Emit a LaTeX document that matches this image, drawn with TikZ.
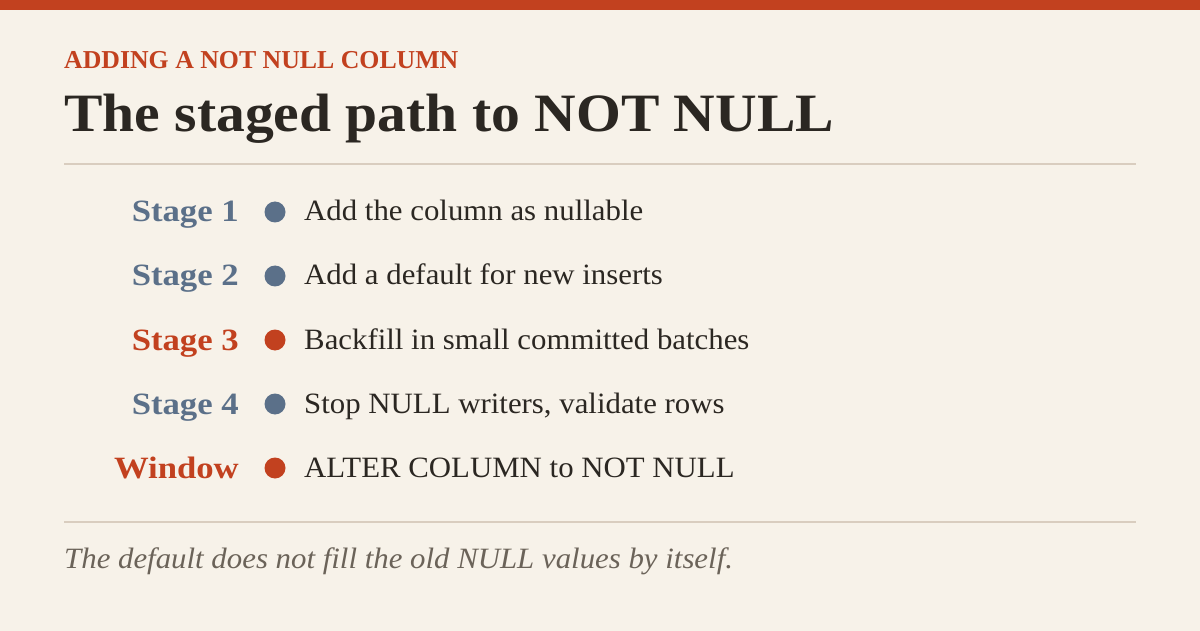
\documentclass[tikz,border=0pt]{standalone}
\usepackage{fontspec}
\setmainfont{Liberation Serif}
\newfontfamily\titlefont[FakeStretch=1.067]{Liberation Serif}
\newfontfamily\descfont[FakeStretch=1.045]{Liberation Serif}
\newfontfamily\lblfont[FakeStretch=1.12]{Liberation Serif}
\definecolor{bg}{HTML}{F7F2E9}
\definecolor{accent}{HTML}{C2411F}
\definecolor{slate}{HTML}{5B7089}
\definecolor{ink}{HTML}{2B2722}
\definecolor{rulec}{HTML}{D9CDBF}
\definecolor{muted}{HTML}{6B6359}
\tikzset{
  lbl/.style={anchor=base east, inner sep=0, font=\lblfont\fontsize{31}{34}\selectfont\bfseries},
  desc/.style={anchor=base west, inner sep=0, text=ink, font=\descfont\fontsize{29.5}{33}\selectfont},
  dot/.style={circle, inner sep=0, minimum size=21pt},
  sep/.style={rulec, line width=2pt}
}
\begin{document}
\begin{tikzpicture}[x=1pt,y=-1pt]
\fill[bg] (0,0) rectangle (1200,631);
\useasboundingbox (0,0) rectangle (1200,631);
\fill[accent] (0,0) rectangle (1200,10);
\node[anchor=base west, inner sep=0, text=accent, font=\fontsize{25.8}{29}\selectfont\bfseries] (kicker) at (64,69) {ADDING A NOT NULL COLUMN};
\node[anchor=base west, inner sep=0, text=ink, font=\titlefont\fontsize{54}{60}\selectfont\bfseries] (title) at (64,132) {The staged path to NOT NULL};
\coordinate (r1a) at (64,164); \coordinate (r1b) at (1136,164);
\draw[sep] (r1a) -- (r1b);
\node[lbl, text=slate] (l1) at (239,222) {Stage 1};
\node[dot, fill=slate] (d1) at (275,212) {};
\node[desc] (t1) at (304,221) {Add the column as nullable};
\node[lbl, text=slate] (l2) at (239,286) {Stage 2};
\node[dot, fill=slate] (d2) at (275,276) {};
\node[desc] (t2) at (304,285) {Add a default for new inserts};
\node[lbl, text=accent] (l3) at (239,350) {Stage 3};
\node[dot, fill=accent] (d3) at (275,340) {};
\node[desc] (t3) at (304,349) {Backfill in small committed batches};
\node[lbl, text=slate] (l4) at (239,414) {Stage 4};
\node[dot, fill=slate] (d4) at (275,404) {};
\node[desc] (t4) at (304,413) {Stop NULL writers, validate rows};
\node[lbl, text=accent] (l5) at (239,478) {Window};
\node[dot, fill=accent] (d5) at (275,468) {};
\node[desc] (t5) at (304,477) {ALTER COLUMN to NOT NULL};
\coordinate (r2a) at (64,522); \coordinate (r2b) at (1136,522);
\draw[sep] (r2a) -- (r2b);
\node[anchor=base west, inner sep=0, text=muted, font=\descfont\fontsize{29.5}{33}\selectfont\itshape] (note) at (64,568) {The default does not fill the old NULL values by itself.};
\end{tikzpicture}
\end{document}
